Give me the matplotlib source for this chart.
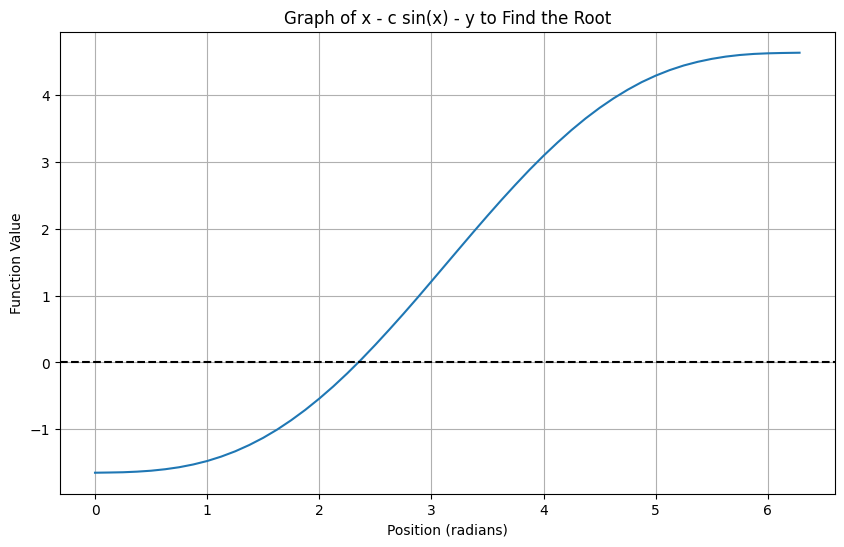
import matplotlib
matplotlib.use('Agg')
from matplotlib import pyplot as plt

# values
x_pos = [0.0, 0.125, 0.25, 0.375, 0.5, 0.625, 0.75, 0.875, 1.0, 1.125, 1.25, 1.375,
         1.5, 1.625, 1.75, 1.875, 2.0, 2.125, 2.25, 2.375, 2.5, 2.625, 2.75, 2.875,
         3.0, 3.125, 3.25, 3.375, 3.5, 3.625, 3.75, 3.875, 4.0, 4.125, 4.25, 4.375,
         4.5, 4.625, 4.75, 4.875, 5.0, 5.125, 5.25, 5.375, 5.5, 5.625, 5.75, 5.875,
         6.0, 6.125, 6.283]
f_val = [-1.650, -1.647, -1.643, -1.634, -1.620, -1.598, -1.568, -1.527, -1.475,
         -1.409, -1.330, -1.236, -1.128, -1.004, -0.864, -0.710, -0.541, -0.359,
         -0.163, 0.045, 0.264, 0.492, 0.726, 0.966, 1.212, 1.459, 1.706, 1.952,
         2.194, 2.431, 2.660, 2.882, 3.092, 3.290, 3.477, 3.650, 3.808, 3.951,
         4.079, 4.193, 4.290, 4.373, 4.442, 4.497, 4.541, 4.575, 4.599, 4.615,
         4.624, 4.629, 4.633]

plt.figure(figsize=(10, 6))
plt.plot(x_pos, f_val)
plt.axhline(0, color='black', linestyle='--')
plt.title('Graph of x - c sin(x) - y to Find the Root')
plt.xlabel('Position (radians)')
plt.ylabel('Function Value')
plt.grid(True)
plt.savefig('out.png', dpi=100, bbox_inches='tight')
